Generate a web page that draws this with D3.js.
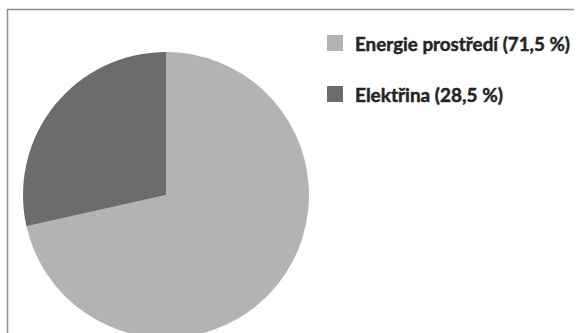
<!DOCTYPE html>
<html>
<head>
<meta charset="utf-8">
<script src="https://cdn.jsdelivr.net/npm/d3@7"></script>
<style>
  html, body { margin: 0; padding: 0; background: #fff; }
  svg { display: block; }
</style>
</head>
<body>
<svg id="chart" width="577" height="333"></svg>
<script>
const categories = ["Energie prostředí", "Elektřina"];
const values = [71.5, 28.5];
const labels = ["Energie prostředí (71,5 %)", "Elektřina (28,5 %)"];
const colors = ["#b3b3b3", "#6c6c6c"];

const svg = d3.select("#chart");

// frame (top and left edges visible)
svg.append("line").attr("x1", 7).attr("y1", 9.5).attr("x2", 574).attr("y2", 9.5)
  .attr("stroke", "#8f8f8f").attr("stroke-width", 1.5);
svg.append("line").attr("x1", 7.5).attr("y1", 9).attr("x2", 7.5).attr("y2", 333)
  .attr("stroke", "#8f8f8f").attr("stroke-width", 1.5);

const cx = 166, cy = 195, r = 143;
const pie = d3.pie().sort(null).value(d => d)(values);
const arc = d3.arc().innerRadius(0).outerRadius(r);

svg.append("g").attr("transform", `translate(${cx},${cy})`)
  .selectAll("path").data(pie).join("path")
  .attr("d", arc)
  .attr("fill", (d, i) => colors[i]);

// legend
const legendY = d3.scaleBand().domain(categories).range([35, 137]).paddingInner(0);
const lg = svg.append("g");
const widths = [215, 148];
categories.forEach((c, i) => {
  const y = legendY(c);
  lg.append("rect").attr("x", 327).attr("y", y).attr("width", 16).attr("height", 16)
    .attr("fill", colors[i]);
  lg.append("text").attr("x", 355).attr("y", y + 15.5)
    .attr("font-family", "Lato, 'Open Sans', sans-serif")
    .attr("font-weight", 700)
    .attr("font-size", 18.5)
    .attr("fill", "#242424")
    .attr("stroke", "#242424")
    .attr("stroke-width", 0.45)
    .attr("textLength", widths[i])
    .attr("lengthAdjust", "spacingAndGlyphs")
    .text(labels[i]);
});
</script>
</body>
</html>
